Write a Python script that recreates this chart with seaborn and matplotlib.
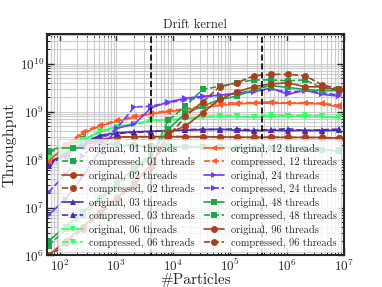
import numpy as np
import pandas as pd
import matplotlib
matplotlib.use("Agg")
import matplotlib.pyplot as plt
import seaborn as sns

# particle counts (powers of two, 2^6 .. 2^23)
particles = [64, 128, 256, 512, 1024, 2048, 4096, 8192, 16384, 32768, 65536,
             131072, 262144, 524288, 1048576, 2097152, 4194304, 8388608]

threads = ["01", "02", "03", "06", "12", "24", "48", "96"]

# throughput, original and compressed layout
orig_01 = [1.5e8, 2.0e8, 2.6e8, 2.2e8, 2.0e8, 1.9e8, 1.85e8, 1.85e8, 1.8e8,
           1.8e8, 1.78e8, 1.78e8, 1.75e8, 1.75e8, 1.65e8, 1.65e8, 1.6e8, 1.5e8]
comp_01 = [1.4e8, 1.9e8, 2.7e8, 2.3e8, 2.1e8, 2.0e8, 1.9e8, 1.9e8, 1.85e8,
           1.8e8, 1.8e8, 1.75e8, 1.7e8, 1.75e8, 1.7e8, 1.65e8, 1.6e8, 1.55e8]
orig_02 = [8.9e7, 1.26e8, 2.0e8, 2.6e8, 2.95e8, 3.0e8, 3.0e8, 3.0e8, 3.0e8,
           3.0e8, 2.95e8, 2.95e8, 2.9e8, 2.9e8, 2.9e8, 2.9e8, 2.9e8, 2.8e8]
comp_02 = [8.5e7, 1.2e8, 1.9e8, 2.5e8, 2.9e8, 3.0e8, 3.0e8, 3.05e8, 3.0e8,
           3.0e8, 2.95e8, 2.9e8, 2.9e8, 2.95e8, 2.9e8, 2.9e8, 2.85e8, 2.8e8]
orig_03 = [8.0e7, 1.4e8, 2.2e8, 3.2e8, 3.6e8, 3.8e8, 3.9e8, 4.0e8, 4.1e8,
           4.2e8, 4.3e8, 4.1e8, 4.0e8, 4.1e8, 4.0e8, 4.1e8, 4.0e8, 4.1e8]
comp_03 = [7.5e7, 1.3e8, 2.1e8, 3.0e8, 3.5e8, 3.7e8, 3.8e8, 4.1e8, 4.2e8,
           4.3e8, 4.2e8, 4.4e8, 4.1e8, 4.2e8, 4.4e8, 4.0e8, 4.2e8, 4.3e8]
orig_06 = [1.1e8, 1.6e8, 2.6e8, 3.9e8, 4.9e8, 5.6e8, 6.6e8, 6.8e8, 7.2e8,
           7.6e8, 8.0e8, 7.8e8, 7.7e8, 7.9e8, 8.0e8, 7.9e8, 7.8e8, 7.4e8]
comp_06 = [1.0e8, 1.5e8, 2.5e8, 3.7e8, 4.7e8, 5.4e8, 6.3e8, 6.6e8, 7.0e8,
           7.8e8, 8.3e8, 8.0e8, 7.9e8, 8.6e8, 8.2e8, 8.4e8, 8.0e8, 7.6e8]
orig_12 = [9.3e7, 1.9e8, 3.5e8, 5.0e8, 6.3e8, 7.6e8, 9.0e8, 1.0e9, 1.1e9,
           1.2e9, 1.35e9, 1.45e9, 1.5e9, 1.5e9, 1.5e9, 1.48e9, 1.45e9, 1.25e9]
comp_12 = [9.0e7, 2.0e8, 3.8e8, 5.3e8, 6.6e8, 8.0e8, 9.3e8, 1.05e9, 1.15e9,
           1.3e9, 1.5e9, 1.55e9, 1.55e9, 1.6e9, 1.5e9, 1.55e9, 1.5e9, 1.35e9]
orig_24 = [7.0e6, 1.5e7, 4.5e7, 1.5e8, 4.5e8, 5.5e8, 1.2e9, 1.6e9, 1.9e9,
           2.1e9, 2.2e9, 2.4e9, 2.6e9, 3.1e9, 2.3e9, 2.8e9, 2.3e9, 2.1e9]
comp_24 = [2.1e7, 5.0e7, 1.2e8, 2.6e8, 4.5e8, 1.25e9, 1.3e9, 1.55e9, 1.75e9,
           2.0e9, 2.2e9, 2.4e9, 2.8e9, 2.9e9, 2.6e9, 2.7e9, 2.5e9, 2.2e9]
orig_48 = [2.0e6, 4.0e6, 8.0e6, 1.6e7, 3.2e7, 6.5e7, 1.3e8, 4.3e8, 9.3e8,
           1.3e9, 1.8e9, 2.1e9, 2.9e9, 3.5e9, 3.2e9, 2.9e9, 2.75e9, 2.75e9]
comp_48 = [1.6e6, 3.5e6, 7.0e6, 1.4e7, 3.0e7, 6.0e7, 1.2e8, 6.6e8, 1.3e9,
           2.9e9, 3.4e9, 4.0e9, 4.6e9, 4.6e9, 4.4e9, 4.6e9, 3.1e9, 2.9e9]
orig_96 = [1.0e6, 2.0e6, 4.0e6, 8.0e6, 1.6e7, 3.2e7, 8.0e7, 3.6e8, 5.0e8,
           9.5e8, 1.8e9, 2.6e9, 3.3e9, 3.8e9, 4.0e9, 3.3e9, 3.3e9, 2.8e9]
comp_96 = [0.9e6, 1.8e6, 3.6e6, 7.2e6, 1.5e7, 3.0e7, 7.0e7, 3.0e8, 8.0e8,
           1.6e9, 3.3e9, 4.0e9, 5.6e9, 6.0e9, 6.0e9, 5.6e9, 3.6e9, 3.0e9]

original = [orig_01, orig_02, orig_03, orig_06, orig_12, orig_24, orig_48, orig_96]
compressed = [comp_01, comp_02, comp_03, comp_06, comp_12, comp_24, comp_48, comp_96]

# cache size markers (in particles)
cache_lines = [4000, 3.7e5]

colors = ["#1fa64a", "#a8401e", "#4a2ab0", "#33ff66",
          "#ff5a28", "#6a3cff", "#1fa64a", "#a8401e"]
markers = ["s", "o", "^", "v", "<", ">", "s", "o"]

rows = []
for t, o, c in zip(threads, original, compressed):
    for n, v in zip(particles, o):
        rows.append(("original", t, n, v))
    for n, v in zip(particles, c):
        rows.append(("compressed", t, n, v))
df = pd.DataFrame(rows, columns=["layout", "threads", "particles", "throughput"])

sns.set_style("ticks")
plt.rcParams["font.family"] = ["cmr10", "DejaVu Serif"]
plt.rcParams["mathtext.fontset"] = "cm"
plt.rcParams["axes.formatter.use_mathtext"] = True
plt.rcParams["axes.unicode_minus"] = False

fig = plt.figure(figsize=(3.82, 2.87), dpi=100)
ax = fig.add_axes([0.123, 0.11, 0.777, 0.772])

for t, col, mk in zip(threads, colors, markers):
    for layout, ls in [("original", "-"), ("compressed", "--")]:
        sub = df[(df.layout == layout) & (df.threads == t)]
        sns.lineplot(data=sub, x="particles", y="throughput", ax=ax,
                     color=col, marker=mk, linestyle=ls, lw=1.2,
                     markersize=5, markeredgewidth=0,
                     label=f"{layout}, {t} threads")

for xv in cache_lines:
    ax.axvline(xv, color="black", ls="--", lw=1.2, zorder=5)

ax.set_xscale("log")
ax.set_yscale("log")
ax.set_xlim(60, 1e7)
ax.set_ylim(1e6, 4.2e10)
ax.grid(True, which="both", color="#cccccc", lw=0.8)
ax.set_axisbelow(True)
ax.tick_params(which="both", direction="in", top=True, right=True,
               labelsize=9.5, pad=2)
ax.tick_params(which="major", length=5, width=1)
ax.tick_params(which="minor", length=2.5, width=0.7)
for s in ax.spines.values():
    s.set_linewidth(1.5)

ax.set_title("Drift kernel", fontsize=9, pad=4)
ax.set_xlabel("#Particles", fontsize=11, labelpad=-1)
ax.set_ylabel("Throughput", fontsize=11.5, labelpad=2)

leg = ax.legend(ncol=2, loc="lower right", fontsize=7.5, framealpha=0.8,
                edgecolor="#cccccc", fancybox=False, labelspacing=0.32,
                handlelength=2.0, columnspacing=0.8, borderaxespad=0.3,
                handletextpad=0.6)
leg.get_frame().set_linewidth(0.8)

fig.savefig("out.png", dpi=100)
